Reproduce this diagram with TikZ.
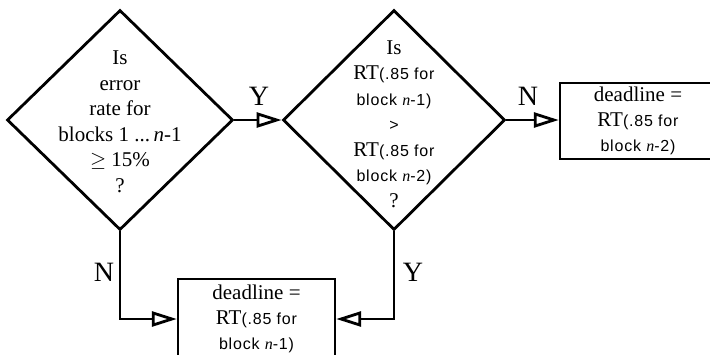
\documentclass[tikz,border=0pt]{standalone}
\usepackage{fontspec}
\setmainfont{Liberation Serif}
\newfontfamily\sfxfont[LetterSpace=5]{Liberation Sans}
\usetikzlibrary{shapes.geometric,arrows.meta}
\newcommand\sfx[1]{{\sfxfont\fontsize{16}{25.5}\selectfont #1}}
\newcommand\itn{{\rmfamily\itshape n}}
\begin{document}
\begin{tikzpicture}[x=1pt,y=-1pt,
  dec/.style={diamond,draw,line width=2.8pt,inner sep=0pt},
  box/.style={rectangle,draw,line width=2.4pt,inner sep=0pt,align=center,
    font=\fontsize{21}{25}\selectfont},
  txt/.style={inner sep=0pt,align=center,font=\fontsize{21}{25.5}\selectfont},
  lbl/.style={inner sep=0pt,font=\fontsize{28}{30}\selectfont},
  conn/.style={line width=2.8pt,-{Triangle[open,length=25pt,width=15pt]}}]
\useasboundingbox (0,0) rectangle (710,354);
% decisions
\node[dec,minimum width=226pt,minimum height=220pt] (d1) at (120,120) {};
\node[dec,minimum width=222pt,minimum height=220pt] (d2) at (394,120) {};
\node[txt] (d1t) at (120,122) {Is\\error\\rate for\\blocks 1 ...\,\itn-1\\$\geq$ 15\%\\?};
\node[txt] (d2t) at (394,124) {Is\\RT\sfx{(.85 for}\\\sfx{block \itn-1)}\\\sfx{>}\\RT\sfx{(.85 for}\\\sfx{block \itn-2)}\\?};
% outcome boxes
\node[box,minimum width=156pt,minimum height=76pt] (b3) at (638,121) {deadline =\\RT\sfx{(.85 for}\\\sfx{block \itn-2)}};
\node[box,minimum width=157pt,minimum height=80pt] (b1) at (256.5,319) {deadline =\\RT\sfx{(.85 for}\\\sfx{block \itn-1)}};
% connectors
\draw[conn] (d1.east) -- (d2.west);
\draw[conn] (d2.east) -- (d2.east -| b3.west);
\draw[conn] (d1.south) |- (b1.west);
\draw[conn] (d2.south) |- (b1.east);
% labels
\node[lbl] (ly1) at (259,96) {Y};
\node[lbl] (ln1) at (528,96) {N};
\node[lbl] (ln2) at (104,272) {N};
\node[lbl] (ly2) at (413,272) {Y};
\end{tikzpicture}
\end{document}
